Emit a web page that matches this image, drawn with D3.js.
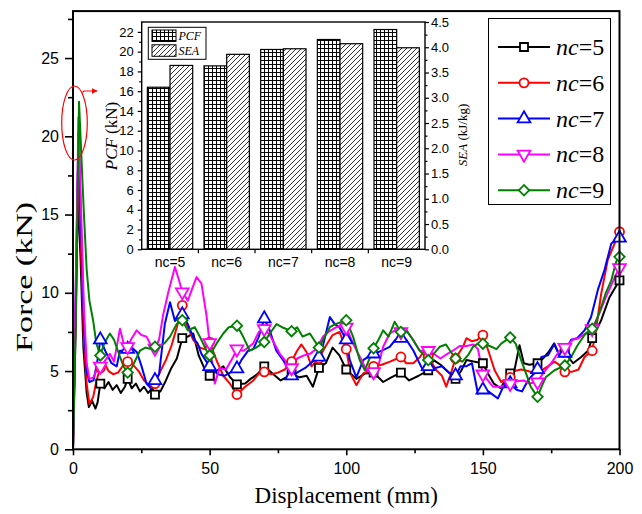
<!DOCTYPE html>
<html>
<head>
<meta charset="utf-8">
<script src="https://cdn.jsdelivr.net/npm/d3@7"></script>
<style>
  body { margin: 0; background: #fff; }
  svg { display: block; font-family: "Liberation Serif", "Times New Roman", serif; }
</style>
</head>
<body>
<svg id="chart" width="642" height="514"></svg>
<script>
// force-displacement curves, [displacement mm, force kN]
var nc5Data = [[0,0],[1,8],[1.8,16.4],[2.8,12],[3.8,6.5],[5,3.6],[5.8,2.7],[7,3.1],[8.2,2.6],[9,3.0],[10,4.2],[11.5,3.9],[13,4.3],[14.5,3.8],[16,4.1],[17.5,3.6],[19,4.0],[20,4.5],[21.5,3.9],[23,4.2],[24.5,3.7],[26,4.0],[27.5,3.6],[29,3.9],[30,3.5],[32,3.7],[34,4.4],[36,5.2],[38,5.8],[40,7.1],[42,7.2],[44,7.4],[46,6.0],[48,5.2],[50,4.7],[52.5,5.0],[55,5.3],[57.5,4.6],[60,4.15],[63,4.2],[65,4.5],[67.5,4.8],[70,5.3],[73,4.85],[76,4.4],[78,4.6],[80,4.8],[83,4.6],[85.5,4.7],[87.8,4.0],[90,5.2],[92.5,5.5],[95,6.5],[97.5,6.0],[100,5.1],[103.7,4.5],[107,4.85],[110,4.9],[113.5,4.3],[116.5,4.6],[120,4.9],[123,4.4],[126.5,4.7],[130,5.05],[132,5.7],[134.5,5.4],[137,5.0],[140,4.5],[142,5.0],[144,5.7],[147,5.6],[150,5.5],[152,4.8],[154,4.2],[156.5,3.9],[158.5,4.5],[160,4.85],[161.5,5.0],[163.4,6.65],[165,5.5],[167,5.4],[170,5.5],[172,5.8],[174,6.2],[176,6.75],[178,6.0],[180,6.2],[183,5.5],[186,5.9],[188.5,6.3],[190,7.1],[193.3,8.25],[196.3,9.7],[200,10.8]];
var nc6Data = [[0,0],[1,9],[1.9,18.6],[2.9,13],[4,7],[5,4.2],[6,2.9],[7.4,3.35],[8.6,4.4],[10,5.2],[11.5,5.5],[13,5.0],[14.7,4.8],[16.5,4.9],[18.5,5.4],[20,5.6],[22,5.4],[24,5.0],[26,4.4],[28.5,4.0],[30,4.2],[32,5.0],[34,5.7],[36,6.6],[38,7.8],[40,9.2],[41.6,8.0],[44,7.0],[46.5,6.5],[48,6.4],[50,6.85],[52.5,5.7],[55,4.7],[57.4,4.2],[60,3.5],[63,4.0],[66,4.4],[68.3,4.9],[70,4.95],[72.5,4.8],[75,4.9],[77.5,5.1],[80,5.6],[82,6.3],[83.6,6.7],[85.5,6.2],[87.3,5.3],[90,5.8],[92.5,6.6],[95,7.3],[97.5,7.5],[100,6.4],[101.5,4.85],[103.7,4.1],[106.2,4.85],[108,5.0],[110,5.3],[113,5.4],[116,5.6],[120,5.9],[122,5.5],[124.5,5.5],[127,5.9],[128.5,6.3],[130,5.9],[133,5.05],[135,4.7],[136.6,4.0],[138,4.7],[140,5.8],[142.7,6.55],[144,7.1],[146,6.9],[148,7.0],[150,7.3],[152,6.3],[154.3,5.05],[156.7,4.3],[160,4.6],[161.6,5.0],[164,5.1],[166.5,5.0],[169,4.85],[171,5.0],[173.8,5.3],[176.2,5.6],[178,5.4],[180,4.95],[182.5,4.95],[185,5.1],[187.2,5.9],[190,6.3],[191.2,7.4],[193.3,9.95],[195.7,12.1],[200,13.9]];
var nc7Data = [[0,0],[1,10],[2,20.2],[3,14],[4,8],[5,5],[6,4.3],[7.5,4.4],[8.8,5.5],[10,7.0],[12.3,6.1],[14.1,5.5],[16,5.3],[17.2,6.3],[18.5,6.3],[20,6.4],[21.5,6.5],[23.4,6.2],[25.1,5.3],[26.9,4.2],[28.5,3.9],[30,4.4],[31.5,4.8],[33.6,8.0],[35.5,9.4],[37.3,8.2],[38.8,8.4],[40,8.6],[42,8.0],[44.4,7.0],[45.5,6.8],[47,6.1],[50,5.3],[53,4.8],[55.5,4.7],[57.5,4.9],[60,5.15],[61.6,5.7],[64.1,6.3],[66,6.4],[68,7.2],[70,8.35],[72,7.6],[74.4,6.3],[76.9,5.7],[80,4.7],[82,4.9],[85,5.2],[88.4,5.7],[90,5.9],[91.5,6.65],[94,8.45],[95.8,8.0],[97.5,7.8],[100,7.0],[101.3,5.7],[103.7,4.6],[106.2,5.7],[108,5.9],[110,6.1],[113,6.3],[115.9,6.55],[118,7.0],[120,7.1],[122,7.0],[124.6,6.3],[126.5,5.6],[128.1,5.05],[130,5.3],[132.5,5.2],[135,5.3],[137.5,4.9],[140,4.7],[141.8,5.3],[143.9,5.3],[146,5.5],[148.2,3.55],[150,3.8],[152,3.7],[155.5,3.25],[158,4.2],[160,4.2],[162.3,3.8],[164.3,3.7],[166.5,4.4],[170,5.1],[171.4,5.9],[173.8,6.0],[176.2,6.75],[178,6.0],[180,6.15],[182.3,7.0],[184.5,7.1],[187.2,7.6],[189.6,8.45],[192.1,10.2],[194.5,11.45],[197,13.15],[200,13.5]];
var nc8Data = [[0,0],[1,10.5],[2,21.2],[3,15],[4,9],[5,5.5],[6,4.5],[7.5,4.6],[8.6,5.05],[10,5.3],[11.5,5.6],[13.5,6.1],[15,5.6],[17.2,7.7],[18.5,6.8],[20,6.55],[21.5,7.1],[23.3,7.6],[25,7.3],[26.9,7.2],[28.8,6.55],[30,6.45],[31.5,7.0],[33,8.6],[34.9,10.05],[37.3,11.65],[38.8,10.8],[40,10.05],[42,9.5],[43.5,10.2],[45.2,11.0],[47,10.6],[48.9,8.5],[50,6.8],[51.9,4.2],[53.7,5.2],[56,5.1],[58.6,5.9],[60,6.4],[62.5,6.3],[65.9,6.75],[68,7.5],[70,7.7],[72,7.3],[75.7,6.1],[78,5.6],[80,5.2],[82,5.8],[84.5,6.0],[86.7,6.1],[89,6.4],[91.5,7.2],[93.5,7.5],[96.4,7.8],[98,7.9],[100,7.8],[102.5,6.75],[105,5.9],[107.4,5.05],[110,4.95],[112,5.5],[113.5,6.55],[115.9,7.4],[118,7.6],[120,7.5],[122,7.6],[124.5,7.0],[126.9,6.3],[130,6.3],[132,6.1],[134.5,5.8],[137,6.1],[139,6.3],[141.5,6.6],[144,6.6],[146.5,6.7],[148.2,6.4],[150,4.8],[153.7,4.0],[156.5,4.0],[160,4.2],[162.5,4.35],[165,4.4],[167,4.2],[170,4.3],[172,4.85],[175,5.5],[178,6.3],[180,6.5],[182.9,7.0],[185,7.1],[187.5,7.4],[190,7.7],[192.7,8.7],[195.1,9.75],[198.8,11.2],[200,11.6]];
var nc9Data = [[0,0],[1,8],[2.2,22.2],[3,19],[4,15],[5,11.5],[6,9.5],[7.4,8.2],[8.5,6.8],[10,6.0],[11.5,6.8],[13.5,7.4],[15,7.0],[17.2,5.9],[18.5,5.3],[20,4.9],[21.5,5.2],[24.5,6.3],[26.5,6.5],[28.5,6.4],[30,6.55],[32,6.6],[33.6,6.8],[35.5,7.2],[37.9,8.0],[40,8.25],[42,7.6],[44.6,7.8],[46.4,7.2],[48.9,6.3],[50,6.0],[52.5,6.75],[55,7.4],[57,7.8],[60,7.9],[62,7.3],[64.7,6.3],[67,6.5],[70,6.85],[72,7.4],[74.5,8.0],[76.5,7.8],[80,7.55],[82,7.8],[84,7.2],[86.7,7.4],[90,6.5],[91.5,7.0],[94,7.8],[96,8.0],[100,8.25],[102.5,7.2],[104.9,5.7],[106.8,5.05],[110,6.45],[111.8,7.0],[113.5,7.6],[115.5,7.2],[117.7,8.15],[120,7.5],[122,7.6],[124,7.1],[126.9,6.3],[130,5.7],[132,6.1],[134.2,6.55],[136.5,6.7],[138,6.3],[140,5.8],[142.5,5.6],[144.5,6.0],[146.4,6.55],[148.2,6.75],[150,6.75],[152.5,6.6],[155,6.4],[156.7,6.75],[160,7.15],[162,6.75],[164,5.7],[165.8,4.85],[167.5,4.0],[170,3.35],[171.5,4.0],[173,4.6],[176.2,5.05],[180,5.35],[182.3,5.9],[184.5,6.6],[187.2,7.3],[190,7.7],[191.5,8.2],[193.3,9.1],[195,10.0],[197,10.8],[198.8,12.0],[200,12.3]];

var seriesNames = ["5", "6", "7", "8", "9"];
var seriesColors = ["#000000", "#ff0000", "#0000ff", "#ff00ff", "#008000"];
var seriesData = [nc5Data, nc6Data, nc7Data, nc8Data, nc9Data];

// inset bar chart
var barCategories = ["nc=5", "nc=6", "nc=7", "nc=8", "nc=9"];
var pcfValues = [16.4, 18.56, 20.22, 21.23, 22.24];
var seaValues = [3.64, 3.86, 3.97, 4.07, 3.99];

var xMajor = [0, 50, 100, 150, 200];
var xMinor = [25, 75, 125, 175];
var yMajor = [0, 5, 10, 15, 20, 25];
var yMinor = [2.5, 7.5, 12.5, 17.5, 22.5, 27.5];
var pcfTicks = d3.range(0, 23, 2);
var pcfMinor = d3.range(1, 23, 2);
var seaTicks = d3.range(0, 4.51, 0.5);
var seaMinor = d3.range(0.25, 4.5, 0.5);

var svg = d3.select("#chart");

var x = d3.scaleLinear().domain([0, 200]).range([73, 619.5]);
var y = d3.scaleLinear().domain([0, 28]).range([449.3, 11.1]);

var defs = svg.append("defs");
var grid = defs.append("pattern")
  .attr("id", "gridHatch")
  .attr("patternUnits", "userSpaceOnUse")
  .attr("width", 4)
  .attr("height", 4);
grid.append("rect").attr("width", 4).attr("height", 4).attr("fill", "#fff");
grid.append("path")
  .attr("d", "M0,0.5H4M0.5,0V4")
  .attr("stroke", "#000")
  .attr("stroke-width", 1);

var diag = defs.append("pattern")
  .attr("id", "diagHatch")
  .attr("patternUnits", "userSpaceOnUse")
  .attr("width", 5)
  .attr("height", 5);
diag.append("rect").attr("width", 5).attr("height", 5).attr("fill", "#fff");
diag.append("path")
  .attr("d", "M0,5L5,0M-1,1L1,-1M4,6L6,4")
  .attr("stroke", "#000")
  .attr("stroke-width", 0.8);

// marker shapes per series
function markerPath(i, size) {
  if (i === 0) return d3.symbol(d3.symbolSquare, size)();
  if (i === 1) return d3.symbol(d3.symbolCircle, size)();
  if (i === 2) return d3.symbol(d3.symbolTriangle, size * 1.1)();
  if (i === 3) return d3.symbol(d3.symbolTriangle, size * 1.1)();
  return d3.symbol(d3.symbolSquare, size * 0.85)();
}
function markerRotate(i) {
  if (i === 3) return " rotate(180)";
  if (i === 4) return " rotate(45)";
  return "";
}

var line = d3.line()
  .x(function (d) { return x(d[0]); })
  .y(function (d) { return y(d[1]); });

var curves = svg.append("g");
seriesData.forEach(function (data, i) {
  curves.append("path")
    .datum(data)
    .attr("d", line)
    .attr("fill", "none")
    .attr("stroke", seriesColors[i])
    .attr("stroke-width", 2)
    .attr("stroke-linejoin", "round");
});
seriesData.forEach(function (data, i) {
  curves.selectAll(null)
    .data(data.filter(function (d) { return d[0] > 0 && d[0] % 10 === 0; }))
    .enter()
    .append("path")
    .attr("d", markerPath(i, 64))
    .attr("transform", function (d) {
      return "translate(" + x(d[0]) + "," + y(d[1]) + ")" + markerRotate(i);
    })
    .attr("fill", "#fff")
    .attr("stroke", seriesColors[i])
    .attr("stroke-width", 1.8);
});

// main axes
function styleAxis(g, size) {
  g.selectAll("text").style("font-size", size + "px").attr("fill", "#000");
  g.selectAll("line").attr("stroke", "#000").attr("stroke-width", 1.6);
  g.select(".domain").remove();
}
svg.append("g")
  .attr("transform", "translate(0,449.3)")
  .call(d3.axisBottom(x).tickValues(xMajor).tickSize(6).tickPadding(7).tickSizeOuter(0))
  .call(styleAxis, 16);
svg.append("g")
  .attr("transform", "translate(0,449.3)")
  .call(d3.axisBottom(x).tickValues(xMinor).tickSize(4).tickFormat("").tickSizeOuter(0))
  .call(styleAxis, 16);
svg.append("g")
  .attr("transform", "translate(73,0)")
  .call(d3.axisLeft(y).tickValues(yMajor).tickSize(8).tickPadding(6).tickSizeOuter(0))
  .call(styleAxis, 16);
svg.append("g")
  .attr("transform", "translate(73,0)")
  .call(d3.axisLeft(y).tickValues(yMinor).tickSize(5).tickFormat("").tickSizeOuter(0))
  .call(styleAxis, 16);

svg.append("rect")
  .attr("x", x(0)).attr("y", y(28))
  .attr("width", x(200) - x(0)).attr("height", y(0) - y(28))
  .attr("fill", "none").attr("stroke", "#000").attr("stroke-width", 2);

svg.append("text")
  .attr("x", (x(0) + x(200)) / 2).attr("y", 503)
  .attr("text-anchor", "middle").style("font-size", "23px")
  .text("Displacement (mm)");
svg.append("text")
  .attr("transform", "translate(32,277) rotate(-90)")
  .attr("text-anchor", "middle").style("font-size", "23px")
  .attr("textLength", 150).attr("lengthAdjust", "spacingAndGlyphs")
  .text("Force (kN)");

// main legend
var legend = svg.append("g");
legend.append("rect")
  .attr("x", 488.5).attr("y", 18.5).attr("width", 122).attr("height", 186)
  .attr("fill", "#fff").attr("stroke", "#000").attr("stroke-width", 1);
seriesNames.forEach(function (name, i) {
  var ly = 47 + i * 35.8;
  legend.append("line")
    .attr("x1", 498).attr("x2", 550).attr("y1", ly).attr("y2", ly)
    .attr("stroke", seriesColors[i]).attr("stroke-width", 2);
  legend.append("path")
    .attr("d", markerPath(i, 64))
    .attr("transform", "translate(524," + ly + ")" + markerRotate(i))
    .attr("fill", "#fff").attr("stroke", seriesColors[i]).attr("stroke-width", 1.8);
  var t = legend.append("text")
    .attr("x", 556).attr("y", ly + 8).style("font-size", "24px");
  t.append("tspan").style("font-style", "italic").text("nc");
  t.append("tspan").text("=" + name);
});

// red ellipse marking the peaks
svg.append("ellipse")
  .attr("cx", 74.5).attr("cy", 123).attr("rx", 12.8).attr("ry", 37)
  .attr("fill", "none").attr("stroke", "#ff0000").attr("stroke-width", 1.2);
defs.append("marker")
  .attr("id", "arrow").attr("viewBox", "0 0 10 10")
  .attr("refX", 9).attr("refY", 5)
  .attr("markerWidth", 5).attr("markerHeight", 5)
  .attr("orient", "auto")
  .append("path").attr("d", "M0,0L10,5L0,10z").attr("fill", "#ff0000");
svg.append("path")
  .attr("d", "M82.5,92.5L84,91H97")
  .attr("fill", "none").attr("stroke", "#ff0000").attr("stroke-width", 1.2)
  .attr("marker-end", "url(#arrow)");

// inset bar chart
var bx = d3.scaleBand().domain(barCategories).range([141.7, 425]).paddingInner(0.2).paddingOuter(0.1);
var pcfY = d3.scaleLinear().domain([0, 23]).range([249.3, 22]);
var seaY = d3.scaleLinear().domain([0, 4.5]).range([249.3, 22]);

var inset = svg.append("g");
inset.append("rect")
  .attr("x", 141.7).attr("y", 22).attr("width", 425 - 141.7).attr("height", 249.3 - 22)
  .attr("fill", "#fff");

inset.selectAll(".pcf")
  .data(pcfValues)
  .enter()
  .append("rect")
  .attr("x", function (d, i) { return bx(barCategories[i]); })
  .attr("y", function (d) { return pcfY(d); })
  .attr("width", bx.bandwidth() / 2)
  .attr("height", function (d) { return pcfY(0) - pcfY(d); })
  .attr("fill", "url(#gridHatch)")
  .attr("stroke", "#000").attr("stroke-width", 1.2);
inset.selectAll(".sea")
  .data(seaValues)
  .enter()
  .append("rect")
  .attr("x", function (d, i) { return bx(barCategories[i]) + bx.bandwidth() / 2; })
  .attr("y", function (d) { return seaY(d); })
  .attr("width", bx.bandwidth() / 2)
  .attr("height", function (d) { return seaY(0) - seaY(d); })
  .attr("fill", "url(#diagHatch)")
  .attr("stroke", "#000").attr("stroke-width", 1.2);

function styleInset(g) {
  g.selectAll("text").style("font-size", "13px").attr("fill", "#000");
  g.selectAll("line").attr("stroke", "#000").attr("stroke-width", 1.2);
  g.select(".domain").remove();
}
inset.append("g")
  .attr("transform", "translate(141.7,0)")
  .call(d3.axisLeft(pcfY).tickValues(pcfTicks).tickSize(4).tickPadding(4).tickSizeOuter(0))
  .call(styleInset);
inset.append("g")
  .attr("transform", "translate(141.7,0)")
  .call(d3.axisLeft(pcfY).tickValues(pcfMinor).tickSize(2.5).tickFormat("").tickSizeOuter(0))
  .call(styleInset);
inset.append("g")
  .attr("transform", "translate(425,0)")
  .call(d3.axisRight(seaY).tickValues(seaTicks).tickSize(4).tickPadding(2).tickFormat(d3.format(".1f")).tickSizeOuter(0))
  .call(styleInset);
inset.append("g")
  .attr("transform", "translate(425,0)")
  .call(d3.axisRight(seaY).tickValues(seaMinor).tickSize(2.5).tickFormat("").tickSizeOuter(0))
  .call(styleInset);
inset.append("g")
  .attr("transform", "translate(0,249.3)")
  .call(d3.axisBottom(bx).tickSize(0).tickPadding(8).tickSizeOuter(0))
  .call(styleInset)
  .selectAll("text").style("font-size", "14px");
inset.selectAll(".sep")
  .data(barCategories.slice(1))
  .enter()
  .append("line")
  .attr("x1", function (d) { return bx(d) - bx.step() * 0.1; })
  .attr("x2", function (d) { return bx(d) - bx.step() * 0.1; })
  .attr("y1", 249.3).attr("y2", 253.3)
  .attr("stroke", "#000").attr("stroke-width", 1.2);

inset.append("rect")
  .attr("x", 141.7).attr("y", 22).attr("width", 425 - 141.7).attr("height", 249.3 - 22)
  .attr("fill", "none").attr("stroke", "#000").attr("stroke-width", 1.4);

var pcfTitle = inset.append("text")
  .attr("transform", "translate(117,136) rotate(-90)")
  .attr("text-anchor", "middle").style("font-size", "17px");
pcfTitle.append("tspan").style("font-style", "italic").text("PCF");
pcfTitle.append("tspan").text(" (kN)");
var seaTitle = inset.append("text")
  .attr("transform", "translate(467,135) rotate(-90)")
  .attr("text-anchor", "middle").style("font-size", "13px");
seaTitle.append("tspan").style("font-style", "italic").text("SEA");
seaTitle.append("tspan").text(" (kJ/kg)");

// inset legend
inset.append("rect")
  .attr("x", 148.3).attr("y", 27.3).attr("width", 57.7).attr("height", 32)
  .attr("fill", "#fff").attr("stroke", "#000").attr("stroke-width", 1);
[["PCF", "url(#gridHatch)"], ["SEA", "url(#diagHatch)"]].forEach(function (d, i) {
  var ly = 30 + i * 14.8;
  inset.append("rect")
    .attr("x", 152).attr("y", ly).attr("width", 24).attr("height", 11.5)
    .attr("fill", d[1]).attr("stroke", "#000").attr("stroke-width", 1);
  inset.append("text")
    .attr("x", 178.5).attr("y", ly + 10)
    .style("font-size", "12px").style("font-style", "italic")
    .text(d[0]);
});
</script>
</body>
</html>
